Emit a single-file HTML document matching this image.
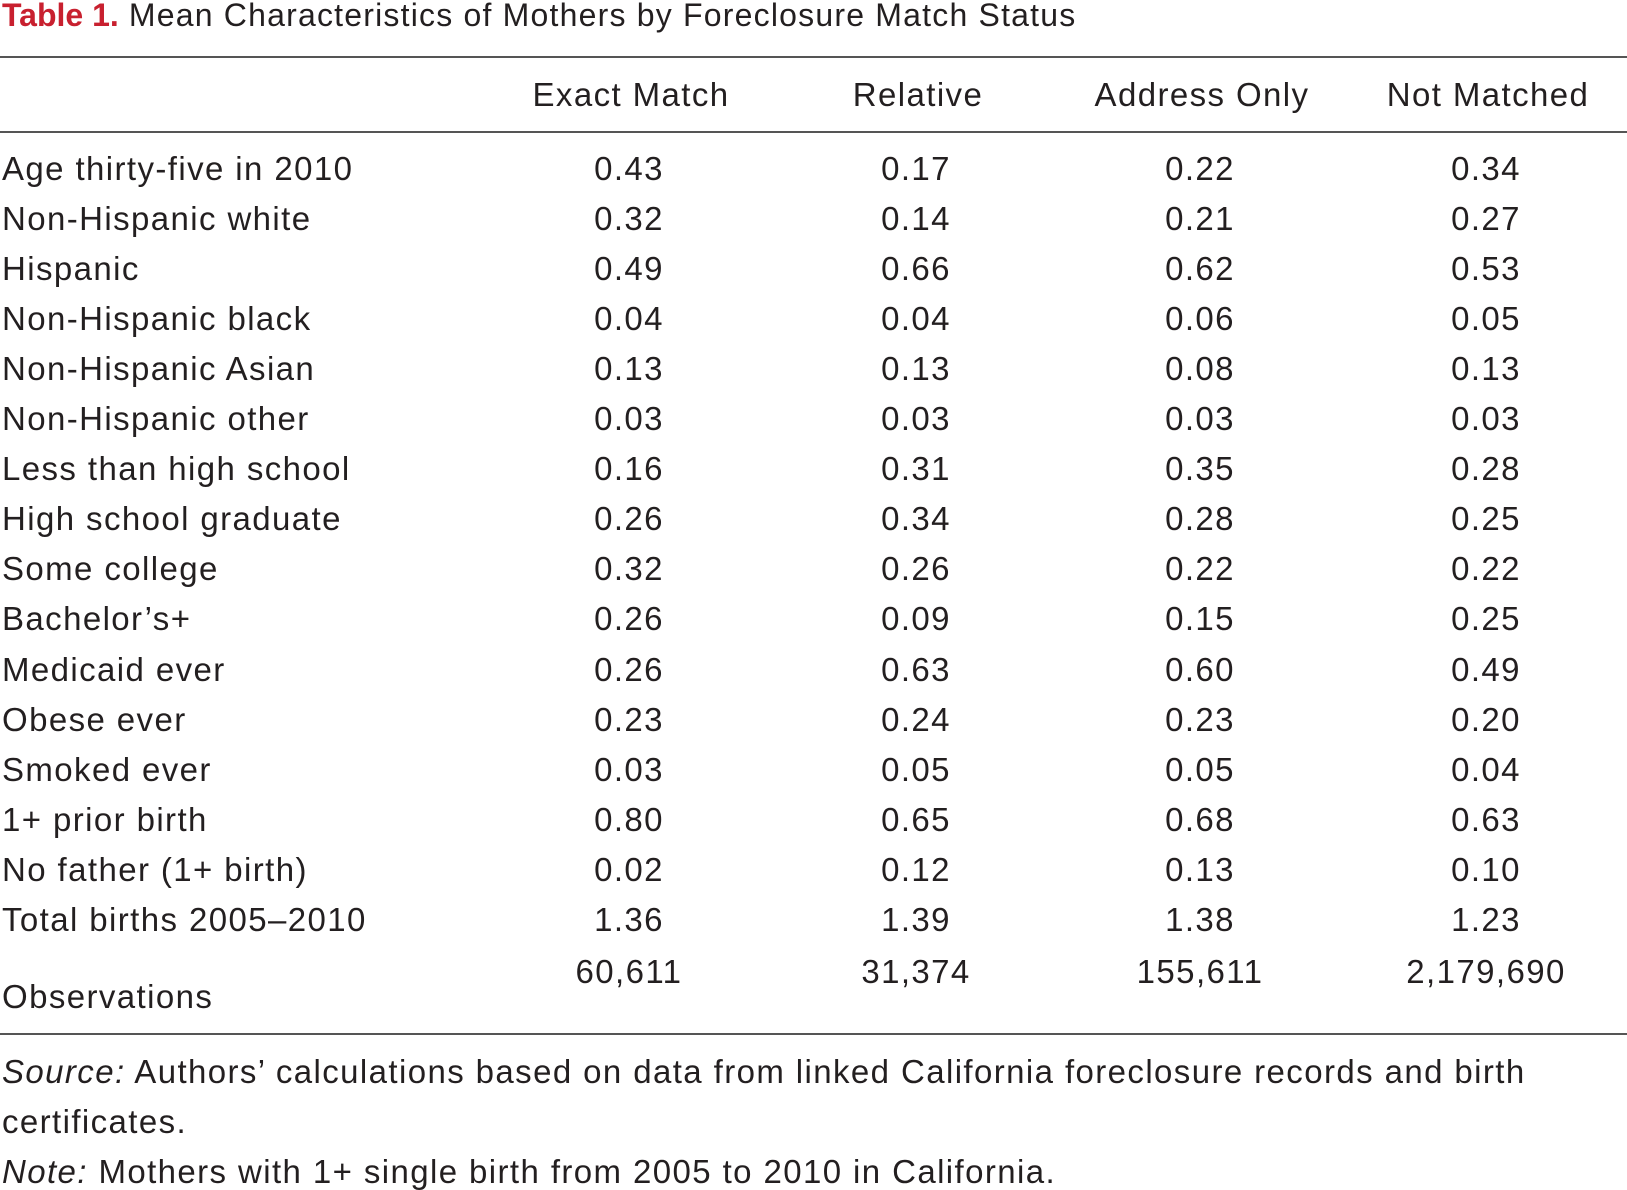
<!DOCTYPE html>
<html><head><meta charset="utf-8"><style>
body{margin:0;width:1627px;height:1189px;background:#fff;position:relative;overflow:hidden;font-family:"Liberation Sans",sans-serif;color:#231f20;}
.t{position:absolute;font-size:33px;line-height:1;white-space:nowrap;letter-spacing:1.4px;}
.c{transform:translateX(-50%);}
.rule{position:absolute;left:0;width:1627px;height:1.5px;background:#555;}
</style></head><body>
<div class="t" style="left:2px;top:-1px;font-size:32px;letter-spacing:1.2px;"><span style="color:#c8202f;font-weight:bold;letter-spacing:0">Table 1.</span> Mean Characteristics of Mothers by Foreclosure Match Status</div>
<div class="rule" style="top:56px"></div>
<div class="rule" style="top:131px"></div>
<div class="rule" style="top:1033px"></div>
<div id="tbl"></div>
<div class="t" style="left:2px;top:1055px;"><i>Source:</i> Authors’ calculations based on data from linked California foreclosure records and birth</div>
<div class="t" style="left:2px;top:1105px;">certificates.</div>
<div class="t" style="left:2px;top:1155px;"><i>Note:</i> Mothers with 1+ single birth from 2005 to 2010 in California.</div>
<script>
const headers=["Exact Match","Relative","Address Only","Not Matched"];
const rows=["Age thirty-five in 2010","Non-Hispanic white","Hispanic","Non-Hispanic black","Non-Hispanic Asian","Non-Hispanic other","Less than high school","High school graduate","Some college","Bachelor’s+","Medicaid ever","Obese ever","Smoked ever","1+ prior birth","No father (1+ birth)","Total births 2005–2010"];
const exact=["0.43","0.32","0.49","0.04","0.13","0.03","0.16","0.26","0.32","0.26","0.26","0.23","0.03","0.80","0.02","1.36"];
const relative=["0.17","0.14","0.66","0.04","0.13","0.03","0.31","0.34","0.26","0.09","0.63","0.24","0.05","0.65","0.12","1.39"];
const addressOnly=["0.22","0.21","0.62","0.06","0.08","0.03","0.35","0.28","0.22","0.15","0.60","0.23","0.05","0.68","0.13","1.38"];
const notMatched=["0.34","0.27","0.53","0.05","0.13","0.03","0.28","0.25","0.22","0.25","0.49","0.20","0.04","0.63","0.10","1.23"];
const observations=["60,611","31,374","155,611","2,179,690"];
const cols=[exact,relative,addressOnly,notMatched];
const colX=[629,916,1200,1486];
const tbl=document.getElementById('tbl');
function add(txt,x,y,center,name){
  const d=document.createElement('div');
  d.className='t'+(center?' c':'');
  d.style.left=x+'px';d.style.top=y+'px';d.textContent=txt;
  
  
  tbl.appendChild(d);
}
headers.forEach((h,i)=>add(h,colX[i]+2,78,true,'column-header'));
rows.forEach((r,j)=>{
  const y=152+j*50.05;
  add(r,2,y,false,'row-label');
  cols.forEach((c,i)=>add(c[j],colX[i],y,true,'cell-value'));
});
add("Observations",2,980,false,'row-label');
observations.forEach((o,i)=>add(o,colX[i],955,true,'observations-value'));
</script>
</body></html>
